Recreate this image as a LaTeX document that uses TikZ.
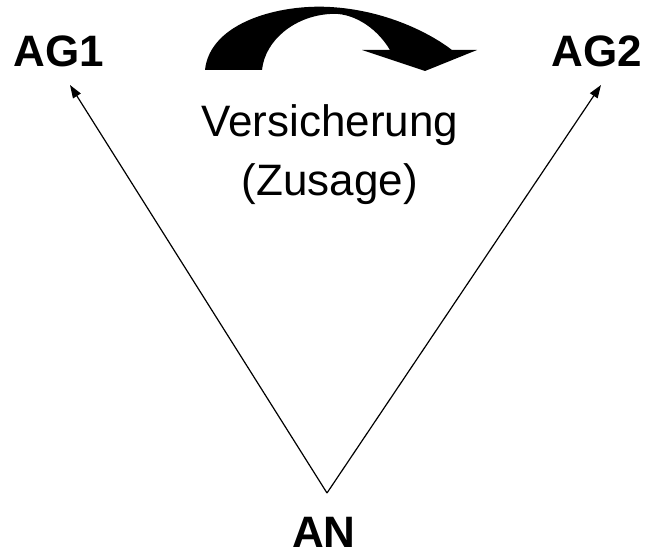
\documentclass[tikz,border=0pt]{standalone}
\usepackage{fontspec}
\setmainfont{Liberation Sans}
\usetikzlibrary{arrows.meta}
\begin{document}
\begin{tikzpicture}[x=1pt,y=-1pt,
  party/.style={font=\fontsize{44}{44}\selectfont\bfseries, inner sep=0pt, anchor=base},
  caption/.style={font=\fontsize{44}{44}\selectfont, inner sep=0pt, anchor=base},
  rel/.style={line width=1.2pt, -{Triangle[length=13pt,width=9pt]}}]
\useasboundingbox (0,0) rectangle (650,556);
\node[party] (AG1) at (59,67) {AG1};
\node[party] (AG2) at (597,67) {AG2};
\node[party] (AN) at (324,547) {AN};
\coordinate (apex) at (327,493);
\coordinate (tip1) at (70,85);
\coordinate (tip2) at (601,85);
\draw[rel] (apex) -- (tip1);
\draw[rel] (apex) -- (tip2);
\node[caption] (vers) at (330,137) {Versicherung};
\node[caption] (zus) at (330,195) {(Zusage)};
\fill[black] (205,70) .. controls (210,22) and (280,4) .. (330,7)
  .. controls (385,10) and (430,33) .. (452,50) -- (477,50) -- (425,71) -- (362,50) -- (390,50)
  .. controls (375,25) and (350,12) .. (330,14)
  .. controls (295,16) and (265,40) .. (262,70) -- cycle;
\end{tikzpicture}
\end{document}
